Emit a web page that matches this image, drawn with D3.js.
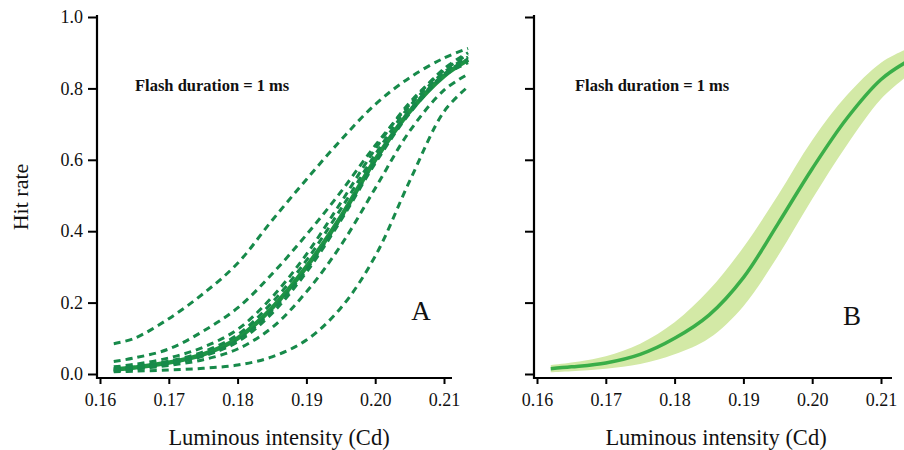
<!DOCTYPE html>
<html>
<head>
<meta charset="utf-8">
<script src="https://cdn.jsdelivr.net/npm/d3@7"></script>
<style>
  body { margin: 0; background: #fff; }
  svg { display: block; }
  text { font-family: "Liberation Serif", "DejaVu Serif", serif; fill: #111; }
</style>
</head>
<body>
<svg id="chart" width="904" height="450"></svg>
<script>
// Two psychometric panels: A = individual fits (dashed) + mean, B = mean with band

const xTicks = [0.16, 0.17, 0.18, 0.19, 0.20, 0.21];
const yTicks = [0.0, 0.2, 0.4, 0.6, 0.8, 1.0];

// sample points along luminous intensity (Cd)
const intensity = [0.162, 0.165, 0.170, 0.175, 0.180, 0.185, 0.190, 0.195, 0.200, 0.205, 0.210, 0.2135];

// panel A — mean fit
const meanA  = [0.012, 0.018, 0.032, 0.055, 0.100, 0.185, 0.300, 0.440, 0.600, 0.735, 0.835, 0.880];
// panel A — individual fits
const fitA1  = [0.085, 0.100, 0.155, 0.225, 0.310, 0.430, 0.545, 0.655, 0.755, 0.830, 0.885, 0.912];
const fitA2  = [0.035, 0.045, 0.070, 0.120, 0.185, 0.280, 0.390, 0.510, 0.640, 0.755, 0.855, 0.900];
const fitA3  = [0.020, 0.027, 0.045, 0.075, 0.125, 0.215, 0.335, 0.480, 0.630, 0.760, 0.850, 0.895];
const fitA4  = [0.015, 0.021, 0.036, 0.062, 0.110, 0.200, 0.318, 0.462, 0.615, 0.750, 0.845, 0.888];
const fitA5  = [0.008, 0.014, 0.028, 0.050, 0.090, 0.170, 0.285, 0.430, 0.590, 0.730, 0.835, 0.872];
const fitA6  = [0.010, 0.014, 0.024, 0.040, 0.070, 0.130, 0.230, 0.360, 0.520, 0.680, 0.795, 0.840];
const fitA7  = [0.006, 0.008, 0.011, 0.016, 0.025, 0.048, 0.095, 0.185, 0.330, 0.540, 0.735, 0.805];
const fitA8  = [0.012, 0.017, 0.030, 0.052, 0.095, 0.178, 0.292, 0.435, 0.596, 0.738, 0.840, 0.882];
const fitsA = [fitA1, fitA2, fitA3, fitA4, fitA5, fitA6, fitA7, fitA8];

// panel B — mean fit and confidence band
const meanB  = [0.015, 0.020, 0.031, 0.055, 0.100, 0.165, 0.270, 0.420, 0.575, 0.715, 0.825, 0.872];
const lowB   = [0.005, 0.008, 0.015, 0.028, 0.055, 0.100, 0.190, 0.330, 0.490, 0.640, 0.770, 0.830];
const highB  = [0.025, 0.032, 0.050, 0.085, 0.145, 0.235, 0.355, 0.500, 0.655, 0.780, 0.872, 0.908];

const DASH_GREEN = '#178a4a';
const SOLID_GREEN = '#1d9445';
const BAND_GREEN = '#d3e9a6';
const LINE_GREEN = '#3aae48';

const svg = d3.select('#chart');

const y = d3.scaleLinear().domain([0, 1]).range([374, 17]);
const xA = d3.scaleLinear().domain([0.16, 0.21]).range([100, 444]);
const xB = d3.scaleLinear().domain([0.16, 0.21]).range([537, 881]);

function drawAxes(x, axisX, axisEnd, showLabels, labelCx) {
    const g = svg.append('g');

    // y axis
    const yAxis = d3.axisLeft(y).tickValues(yTicks).tickSize(9).tickSizeOuter(0)
        .tickFormat(showLabels ? d3.format('.1f') : '');
    const gy = g.append('g').attr('transform', `translate(${axisX},0)`).call(yAxis);
    gy.select('.domain').remove();
    gy.append('line').attr('x1', 0).attr('x2', 0).attr('y1', 15).attr('y2', 379)
        .attr('stroke', '#000').attr('stroke-width', 2.2);
    gy.selectAll('.tick line').attr('stroke', '#000').attr('stroke-width', 2);
    gy.selectAll('.tick text').attr('x', -14).attr('font-size', '18px').attr('fill', '#111');

    // x axis
    const xAxis = d3.axisBottom(x).tickValues(xTicks).tickSize(6).tickSizeOuter(0)
        .tickFormat(d3.format('.2f'));
    const gx = g.append('g').attr('transform', 'translate(0,378)').call(xAxis);
    gx.select('.domain').remove();
    gx.append('line').attr('x1', axisX - 1).attr('x2', axisEnd).attr('y1', 0).attr('y2', 0)
        .attr('stroke', '#000').attr('stroke-width', 2.2);
    gx.selectAll('.tick line').attr('stroke', '#000').attr('stroke-width', 2);
    gx.selectAll('.tick text').attr('y', 15).attr('font-size', '18px').attr('fill', '#111');

    g.selectAll('.tick text').attr('font-family', '"Liberation Serif", serif');

    g.append('text')
        .attr('x', labelCx).attr('y', 445)
        .attr('text-anchor', 'middle')
        .attr('font-size', '22.5px')
        .text('Luminous intensity (Cd)');
}

const lineA = d3.line().x((d, i) => xA(intensity[i])).y(d => y(d)).curve(d3.curveCatmullRom);
const lineB = d3.line().x((d, i) => xB(intensity[i])).y(d => y(d)).curve(d3.curveCatmullRom);

// ── Panel A ──────────────────────────────────────────────────────────────
drawAxes(xA, 97, 452, true, 279);

svg.append('path')
    .attr('d', lineA(meanA))
    .attr('fill', 'none')
    .attr('stroke', SOLID_GREEN)
    .attr('stroke-width', 4.5);

svg.append('g').selectAll('path')
    .data(fitsA)
    .join('path')
    .attr('d', d => lineA(d))
    .attr('fill', 'none')
    .attr('stroke', DASH_GREEN)
    .attr('stroke-width', 3)
    .attr('stroke-dasharray', '7,5');

svg.append('text')
    .attr('x', 135).attr('y', 91)
    .attr('font-size', '16.5px').attr('font-weight', 'bold')
    .text('Flash duration = 1 ms');

svg.append('text')
    .attr('x', 421).attr('y', 320)
    .attr('text-anchor', 'middle')
    .attr('font-size', '27px')
    .text('A');

svg.append('text')
    .attr('transform', 'translate(28,197) rotate(-90)')
    .attr('text-anchor', 'middle')
    .attr('font-size', '22px')
    .text('Hit rate');

// ── Panel B ──────────────────────────────────────────────────────────────
drawAxes(xB, 534, 892, false, 716);

const area = d3.area()
    .x((d, i) => xB(intensity[i]))
    .y0((d, i) => y(lowB[i]))
    .y1((d, i) => y(highB[i]))
    .curve(d3.curveCatmullRom);

svg.append('path')
    .attr('d', area(meanB))
    .attr('fill', BAND_GREEN);

svg.append('path')
    .attr('d', lineB(meanB))
    .attr('fill', 'none')
    .attr('stroke', LINE_GREEN)
    .attr('stroke-width', 3.5);

svg.append('text')
    .attr('x', 575).attr('y', 91)
    .attr('font-size', '16.5px').attr('font-weight', 'bold')
    .text('Flash duration = 1 ms');

svg.append('text')
    .attr('x', 852).attr('y', 325)
    .attr('text-anchor', 'middle')
    .attr('font-size', '27px')
    .text('B');
</script>
</body>
</html>
